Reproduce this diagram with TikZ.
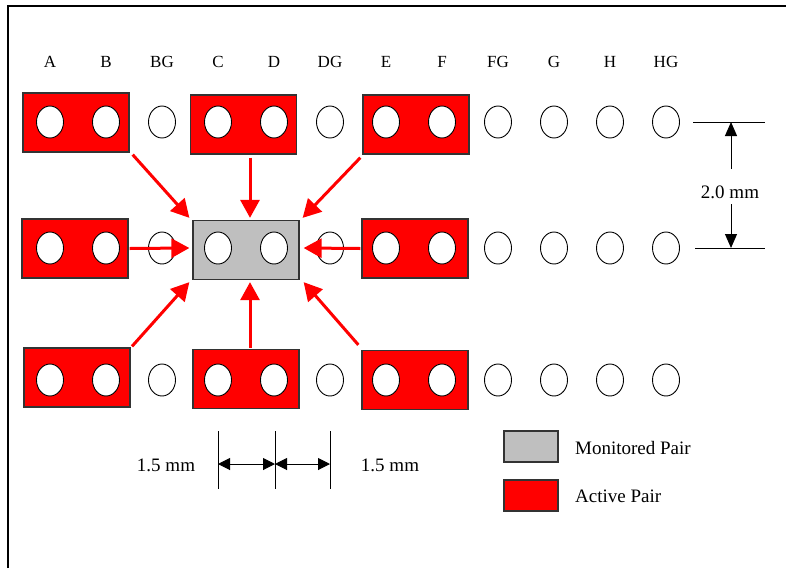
\documentclass[tikz,border=0pt]{standalone}
\usepackage{fontspec}
\setmainfont{Liberation Serif}
\usetikzlibrary{shapes.geometric,arrows.meta}
\begin{document}
\begin{tikzpicture}[x=1pt,y=-1pt,
  hole/.style={draw=black,fill=white,ellipse,line width=0.9pt,minimum width=27pt,minimum height=32pt,inner sep=0pt},
  pairbox/.style={draw=black!80,line width=1.3pt,minimum width=106pt,minimum height=59pt,inner sep=0pt},
  actbox/.style={pairbox,fill=red},
  monbox/.style={pairbox,fill=black!25},
  act/.style={draw=red,line width=3pt,-{Triangle[length=18pt,width=19pt]}},
  dimarrow/.style={draw=black,line width=1pt,-{Triangle[length=14pt,width=12pt]}},
  dimdouble/.style={draw=black,line width=1pt,{Triangle[length=12pt,width=12pt]}-{Triangle[length=12pt,width=12pt]}},
  dimline/.style={draw=black,line width=1pt},
  collabel/.style={font=\fontsize{17}{17}\selectfont,inner sep=0pt},
  dimtext/.style={font=\fontsize{19}{19}\selectfont,inner sep=0pt},
  legtext/.style={font=\fontsize{19}{19}\selectfont,inner sep=0pt,anchor=west}]
\useasboundingbox (0,0) rectangle (786,568);
\fill[white] (0,0) rectangle (786,568);
% frame
\coordinate (fbl) at (8,568);
\coordinate (ftl) at (8,6);
\coordinate (ftr) at (786,6);
\draw[line width=2.2pt,black] (fbl) -- (ftl) -- (ftr);

% column labels
\foreach \n/\t [count=\i from 0] in {lA/A,lB/B,lBG/BG,lC/C,lD/D,lDG/DG,lE/E,lF/F,lFG/FG,lG/G,lH/H,lHG/HG}{
  \node[collabel] (\n) at ({50+56*\i},62) {\t};
}

% boxes
\node[actbox] (ab1) at (76,122.5) {};
\node[actbox] (cd1) at (243.5,124.5) {};
\node[actbox] (ef1) at (416,124.5) {};
\node[actbox] (ab2) at (75,248.5) {};
\node[monbox] (mon) at (246,250) {};
\node[actbox] (ef2) at (415,248.5) {};
\node[actbox] (ab3) at (77,377.5) {};
\node[actbox] (cd3) at (246,379) {};
\node[actbox] (ef3) at (415,380) {};

% holes
\foreach \r/\y in {1/122,2/248,3/380}{
  \foreach \i in {0,...,11}{
    \node[hole] (h\r-\i) at ({50+56*\i},\y) {};
  }
}

% active arrows
\draw[act] ([shift={(3pt,-2pt)}]ab1.south east) -- ([shift={(-3pt,2pt)}]mon.north west);
\draw[act] ([shift={(6.5pt,-3pt)}]cd1.south) -- ([shift={(4pt,2pt)}]mon.north);
\draw[act] ([shift={(-2pt,-3pt)}]ef1.south west) -- ([shift={(3pt,2pt)}]mon.north east);
\draw[act] ([shift={(1pt,0pt)}]ab2.east) -- ([shift={(-3pt,2pt)}]mon.west);
\draw[act] ([shift={(-1pt,0pt)}]ef2.west) -- ([shift={(4pt,2pt)}]mon.east);
\draw[act] ([shift={(55pt,1pt)}]ab3.north) -- ([shift={(-3pt,-2pt)}]mon.south west);
\draw[act] ([shift={(4pt,1pt)}]cd3.north) -- ([shift={(4pt,-2pt)}]mon.south);
\draw[act] ([shift={(-3pt,5pt)}]ef3.north west) -- ([shift={(4pt,-2pt)}]mon.south east);

% vertical dimension (2.0 mm)
\coordinate (rt1) at (693,122);
\coordinate (rt2) at (765,122);
\coordinate (rb1) at (695,248);
\coordinate (rb2) at (765,248);
\draw[dimline] (rt1) -- (rt2);
\draw[dimline] (rb1) -- (rb2);
\node[dimtext] (d20) at (730,192) {2.0 mm};
\coordinate (va) at (731,169);
\coordinate (vat) at (731,122);
\coordinate (vb) at (731,204);
\coordinate (vbt) at (731,248);
\draw[dimarrow] (va) -- (vat);
\draw[dimarrow] (vb) -- (vbt);

% horizontal dimension (1.5 mm)
\coordinate (t1) at (218,431); \coordinate (b1) at (218,489);
\coordinate (t2) at (275,431); \coordinate (b2) at (275,489);
\coordinate (t3) at (330,431); \coordinate (b3) at (330,489);
\draw[dimline] (t1) -- (b1);
\draw[dimline] (t2) -- (b2);
\draw[dimline] (t3) -- (b3);
\coordinate (m1) at (218,464);
\coordinate (m2) at (275,464);
\coordinate (m3) at (330,464);
\draw[dimdouble] (m1) -- (m2);
\draw[dimdouble] (m2) -- (m3);
\node[dimtext] (d15a) at (166,465) {1.5 mm};
\node[dimtext] (d15b) at (390,465) {1.5 mm};

% legend
\node[draw=black!80,line width=1.3pt,fill=black!25,minimum width=54pt,minimum height=31pt,inner sep=0pt] (legmon) at (531,446.5) {};
\node[draw=black!80,line width=1.3pt,fill=red,minimum width=54pt,minimum height=31pt,inner sep=0pt] (legact) at (531,495.5) {};
\node[legtext] (legmont) at (575,448) {Monitored Pair};
\node[legtext] (legactt) at (575,496) {Active Pair};
\end{tikzpicture}
\end{document}
